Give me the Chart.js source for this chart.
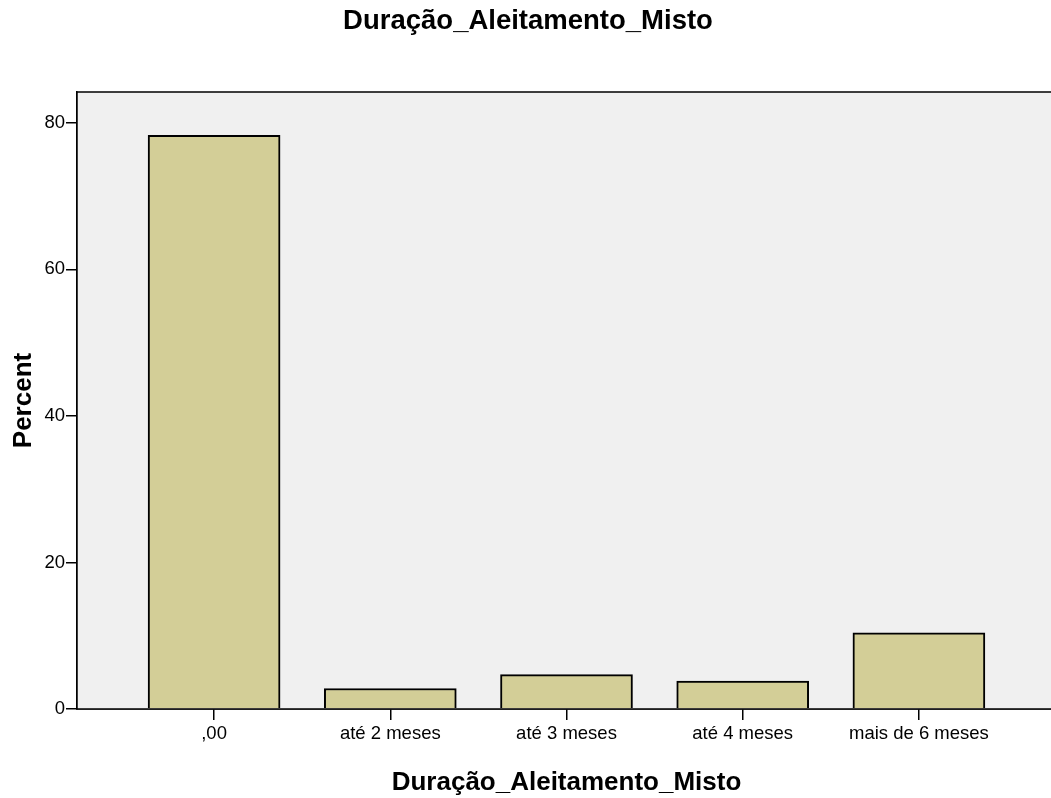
<!DOCTYPE html>
<html>
<head>
<meta charset="utf-8">
<script src="https://cdn.jsdelivr.net/npm/chart.js@4/dist/chart.umd.min.js"></script>
<style>
  html, body { margin: 0; padding: 0; background: #fff; overflow: hidden; }
  .holder { width: 1051px; height: 798px; overflow: hidden; }
  canvas { display: block; }
</style>
</head>
<body>
<div class="holder">
  <canvas id="chart" width="1056" height="798" style="width:1056px;height:798px"></canvas>
</div>
<script>
  const categories = [',00', 'até 2 meses', 'até 3 meses', 'até 4 meses', 'mais de 6 meses'];
  const percentValues = [78.3, 2.8, 4.7, 3.8, 10.4];
  const yTicks = [0, 20, 40, 60, 80];
  const chartTitle = 'Duração_Aleitamento_Misto';
  const xTitle = 'Duração_Aleitamento_Misto';
  const yTitle = 'Percent';

  const fontFamily = '"Liberation Sans", Arial, sans-serif';

  // grey plot background and frame like SPSS output
  const plotFrame = {
    id: 'plotFrame',
    beforeDatasetsDraw: (chart) => {
      const { ctx, chartArea: a } = chart;
      ctx.save();
      ctx.fillStyle = '#f0f0f0';
      ctx.fillRect(a.left, a.top, a.right - a.left, a.bottom - a.top);
      ctx.restore();
    },
    afterDraw: (chart) => {
      const { ctx, chartArea: a } = chart;
      ctx.save();
      ctx.strokeStyle = '#000';
      ctx.lineWidth = 1.5;
      ctx.strokeRect(a.left, a.top, a.right - a.left, a.bottom - a.top);
      ctx.restore();
    },
  };

  const points = categories.map((c, i) => ({ x: i, y: percentValues[i] }));

  new Chart(document.getElementById('chart'), {
    type: 'bar',
    data: {
      datasets: [
        {
          data: points,
          backgroundColor: '#d3ce97',
          borderColor: '#000',
          borderWidth: 2,
          barThickness: 132,
        },
      ],
    },
    plugins: [plotFrame],
    options: {
      responsive: false,
      animation: false,
      layout: { padding: { left: 0, right: 0, top: 0, bottom: 0 } },
      plugins: {
        legend: { display: false },
        tooltip: { enabled: false },
        title: {
          display: true,
          text: chartTitle,
          color: '#000',
          font: { family: fontFamily, size: 27.5, weight: 'bold' },
          padding: { top: 5, bottom: 54 },
        },
      },
      scales: {
        x: {
          type: 'linear',
          offset: false,
          min: -0.778,
          max: 4.778,
          afterBuildTicks: (scale) => {
            scale.ticks = categories.map((c, i) => ({ value: i }));
          },
          afterFit: (scale) => {
            scale.height = 89;
          },
          ticks: {
            color: '#000',
            font: { family: fontFamily, size: 18.5 },
            padding: 3,
            maxRotation: 0,
            autoSkip: false,
            callback: (value) => categories[value],
          },
          grid: {
            offset: false,
            drawOnChartArea: false,
            drawTicks: true,
            tickLength: 11,
            color: '#000',
            lineWidth: 1.5,
          },
          border: { display: true, color: '#000', width: 1.5 },
          title: {
            display: true,
            text: xTitle,
            color: '#000',
            font: { family: fontFamily, size: 26, weight: 'bold' },
            padding: { top: 4, bottom: 0 },
          },
        },
        y: {
          min: 0,
          max: 84.2,
          afterBuildTicks: (scale) => {
            scale.ticks = yTicks.map((v) => ({ value: v }));
          },
          afterFit: (scale) => {
            scale.width = 77;
          },
          ticks: {
            color: '#000',
            font: { family: fontFamily, size: 18.5 },
            padding: 1,
          },
          grid: {
            drawOnChartArea: false,
            drawTicks: true,
            tickLength: 11,
            color: '#000',
            lineWidth: 1.5,
          },
          border: { display: true, color: '#000', width: 1.5 },
          title: {
            display: true,
            text: yTitle,
            color: '#000',
            font: { family: fontFamily, size: 26, weight: 'bold' },
            padding: { top: 8, bottom: 0 },
          },
        },
      },
    },
  });
</script>
</body>
</html>
